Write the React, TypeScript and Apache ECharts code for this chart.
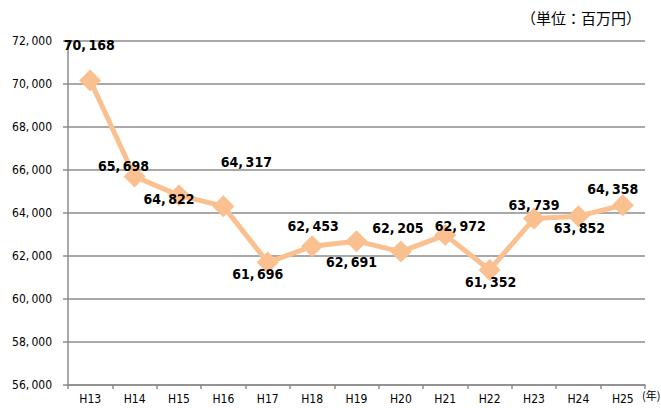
import React, { useEffect, useRef } from "react";
import * as echarts from "echarts";

const categories = ["H13", "H14", "H15", "H16", "H17", "H18", "H19", "H20", "H21", "H22", "H23", "H24", "H25"];
const values = [70168, 65698, 64822, 64317, 61696, 62453, 62691, 62205, 62972, 61352, 63739, 63852, 64358];
const labelOffsets: [number, number][] = [
  [-1, -35], [-11, -10], [-10, 4], [23, -44], [-10, 11], [1, -20], [-5, 21],
  [-3, -24], [15, -9], [1, 12], [0, -14], [1, 12], [-10, -16],
];
const unitText = "（単位：百万円）";

const NARROW = "'DejaVu Sans Condensed', 'Liberation Sans Narrow', sans-serif";

const fmt = (v: number) => {
  const s = Math.round(v).toString();
  return s.replace(/\B(?=(\d{3})+(?!\d))/g, ",\u2009");
};

export default function App() {
  const ref = useRef<HTMLDivElement>(null);
  useEffect(() => {
    if (!ref.current) return;
    const chart = echarts.init(ref.current, null, { renderer: "svg" });
    chart.setOption({
      animation: false,
      grid: { left: 68, right: 16, top: 41, bottom: 23, outerBoundsMode: "none", containLabel: false },
      graphic: [
        {
          type: "text",
          right: 20,
          top: 10,
          style: { text: unitText, font: "15px 'Noto Sans CJK JP', sans-serif", fill: "#000" },
        },
      ],
      xAxis: {
        type: "category",
        data: categories,
        boundaryGap: true,
        name: "(年)",
        nameLocation: "end",
        nameGap: -3,
        nameTextStyle: { fontSize: 11, color: "#000", fontFamily: "'Noto Sans CJK JP', sans-serif", verticalAlign: "top", align: "left", padding: [5, 0, 0, 0] },
        axisLine: { lineStyle: { color: "#8c8c8c", width: 1.5 } },
        axisTick: { show: true, lineStyle: { color: "#8c8c8c", width: 1.5 }, length: 4 },
        axisLabel: { color: "#000", fontSize: 12, fontFamily: NARROW, margin: 8 },
      },
      yAxis: {
        type: "value",
        min: 56000,
        max: 72000,
        interval: 2000,
        axisLine: { show: true, lineStyle: { color: "#8c8c8c", width: 1.5 } },
        axisTick: { show: true, lineStyle: { color: "#8c8c8c", width: 1.5 }, length: 5 },
        splitLine: { lineStyle: { color: "#8c8c8c", width: 1.5 } },
        axisLabel: {
          color: "#000",
          fontSize: 12,
          fontFamily: NARROW,
          margin: 16,
          formatter: (v: number) => fmt(v),
        },
      },
      series: [
        {
          type: "line",
          data: values.map((v, i) => ({
            value: v,
            label: { position: "inside", offset: labelOffsets[i] },
          })),
          symbol: "diamond",
          symbolSize: 22,
          lineStyle: { color: "#FAC090", width: 5 },
          itemStyle: { color: "#FAC090" },
          label: {
            show: true,
            formatter: (p: any) => fmt(p.value),
            color: "#000",
            fontSize: 14,
            fontWeight: "bold",
            fontFamily: NARROW,
          },
          z: 3,
        },
      ],
    });
    return () => chart.dispose();
  }, []);
  return <div ref={ref} style={{ width: 661, height: 408, position: "absolute", left: 0, top: 0 }} />;
}
